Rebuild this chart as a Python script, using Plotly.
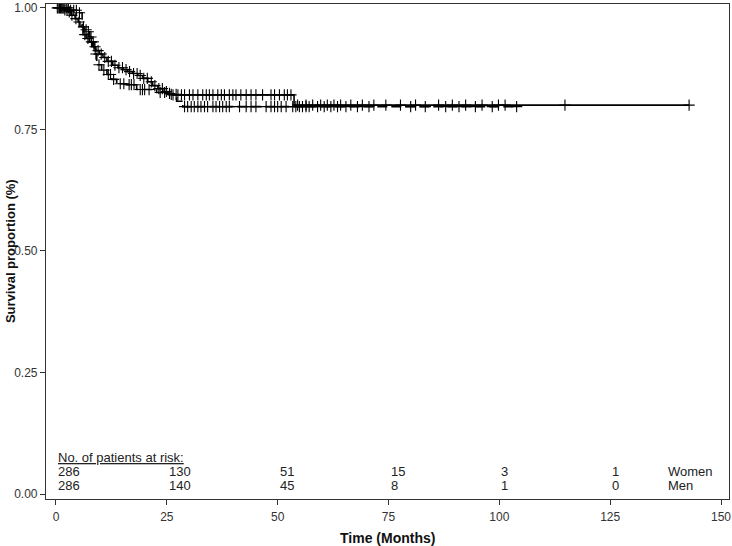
import numpy as np
import plotly.graph_objects as go

# ---- Kaplan-Meier step data ----
women_t = [0, 2.0, 2.7, 3.5, 4.3, 5.0, 5.4, 6.1, 6.8, 7.5, 8.3, 9.0, 9.8, 10.6, 11.5,
           12.8, 14.0, 15.1, 16.2, 17.3, 18.5, 19.6, 20.7, 21.8, 23.0, 24.1, 25.2, 26.3, 53.7]
women_s = [1.0, 0.996, 0.992, 0.985, 0.978, 0.971, 0.962, 0.945, 0.937, 0.930, 0.920, 0.912,
           0.905, 0.898, 0.890, 0.882, 0.877, 0.873, 0.869, 0.865, 0.861, 0.855, 0.848, 0.840,
           0.834, 0.828, 0.824, 0.821, 0.800]
women_end = 142.8

men_t = [0, 3.0, 5.0, 5.9, 6.5, 7.0, 7.6, 8.1, 8.6, 9.2, 10.3, 11.5, 12.6, 13.7, 16.0,
         18.2, 22.7, 25.6, 27.2, 28.6]
men_s = [1.0, 0.995, 0.990, 0.961, 0.955, 0.951, 0.940, 0.930, 0.905, 0.883, 0.872, 0.863,
         0.853, 0.844, 0.842, 0.832, 0.826, 0.822, 0.808, 0.797]
men_end = 103.9

# censoring times
women_cens = [0.3, 0.8, 1.2, 1.6, 2.0, 2.5, 3.0, 3.6, 4.5, 5.2, 6.5, 7.2, 8.0, 8.8, 9.5,
              10.2, 11.0, 11.8, 12.5, 13.3, 14.2, 15.0, 15.8, 16.6, 17.5, 18.3, 19.0, 19.8,
              20.6, 21.5, 22.3, 23.2, 24.0, 24.9, 25.6, 26.4, 27.5, 28.3, 29.0, 30.1, 30.9,
              32.0, 33.1, 33.9, 34.6, 35.4, 36.5, 37.3, 38.0, 39.1, 39.9, 40.6, 41.7, 42.9,
              44.0, 45.1, 46.6, 48.5, 49.3, 50.4, 51.5, 52.2, 53.0, 54.5, 56.4, 57.9, 59.7,
              61.2, 62.7, 64.2, 66.5, 69.1, 71.7, 74.4, 77.7, 81.1, 86.3, 89.4, 92.4, 96.1,
              99.8, 101.3, 114.8, 142.8]
men_cens = [0.5, 1.0, 1.4, 1.8, 2.3, 2.8, 3.3, 4.0, 4.6, 5.3, 6.2, 6.8, 7.3, 7.9, 8.4, 9.0,
            9.7, 10.8, 11.8, 12.3, 13.0, 14.5, 15.3, 16.5, 17.0, 17.6, 19.0, 19.5, 20.0,
            21.0, 23.5, 24.5, 26.0, 27.1, 29.0, 29.7, 30.5, 31.2, 32.0, 32.7, 33.5, 34.2,
            35.4, 36.1, 36.9, 37.6, 38.4, 39.1, 41.4, 42.9, 44.0, 45.1, 47.4, 48.5, 49.3,
            50.0, 50.8, 51.9, 53.4, 54.1, 54.9, 55.6, 56.4, 57.1, 59.0, 60.5, 62.0, 63.5,
            65.4, 68.0, 70.6, 80.0, 83.3, 87.9, 90.9, 94.6, 98.4, 103.9]

# risk table
risk_times = [0, 25, 50, 75, 100, 125]
risk_women = [286, 130, 51, 15, 3, 1]
risk_men = [286, 140, 45, 8, 1, 0]

x_ticks = [0, 25, 50, 75, 100, 125, 150]
y_ticks = [0, 0.25, 0.5, 0.75, 1.0]
y_tick_labels = ["0.00", "0.25", "0.50", "0.75", "1.00"]


def surv_at(times, ts, ss):
    idx = np.searchsorted(np.array(ts), np.array(times), side="right") - 1
    return [ss[i] for i in idx]


fig = go.Figure()

for ts, ss, end, cens, dash in [
    (women_t, women_s, women_end, women_cens, "solid"),
    (men_t, men_s, men_end, men_cens, "10px,4px"),
]:
    xs = list(ts) + [end]
    ys = list(ss) + [ss[-1]]
    fig.add_trace(go.Scatter(x=xs, y=ys, mode="lines", line_shape="hv",
                             line=dict(color="black", width=1.6, dash=dash),
                             showlegend=False, hoverinfo="skip"))
    fig.add_trace(go.Scatter(x=cens, y=surv_at(cens, ts, ss), mode="markers",
                             marker=dict(symbol="cross-thin-open", size=8, color="black",
                                         line=dict(color="black", width=1.1)),
                             showlegend=False, hoverinfo="skip"))

font_tab = dict(family="Liberation Sans, Arial", size=13, color="#222")
ann = []
ann.append(dict(x=0, y=0.0745, xref="x", yref="y", text="<u>No. of patients at risk:</u>",
                showarrow=False, xanchor="left", yanchor="middle", font=font_tab))
for t, w, m in zip(risk_times, risk_women, risk_men):
    ann.append(dict(x=t, y=0.0471, xref="x", yref="y", text=str(w), showarrow=False,
                    xanchor="left", yanchor="middle", font=font_tab))
    ann.append(dict(x=t, y=0.0184, xref="x", yref="y", text=str(m), showarrow=False,
                    xanchor="left", yanchor="middle", font=font_tab))
ann.append(dict(x=137.6, y=0.0471, xref="x", yref="y", text="Women", showarrow=False,
                xanchor="left", yanchor="middle", font=font_tab))
ann.append(dict(x=137.6, y=0.0184, xref="x", yref="y", text="Men", showarrow=False,
                xanchor="left", yanchor="middle", font=font_tab))
ann.append(dict(x=0.5007, y=-0.0785, xref="paper", yref="paper", text="<b>Time (Months)</b>",
                showarrow=False, xanchor="center", yanchor="middle",
                font=dict(family="Liberation Sans, Arial", size=14, color="#111")))
ann.append(dict(x=-0.0526, y=0.501, xref="paper", yref="paper",
                text="<b>Survival proportion (%)</b>", textangle=-90,
                showarrow=False, xanchor="center", yanchor="middle",
                font=dict(family="Liberation Sans, Arial", size=13, color="#111")))

axis_common = dict(showline=True, linecolor="#333", linewidth=1.2, mirror=True,
                   ticks="outside", ticklen=5, tickcolor="#333", showgrid=False,
                   zeroline=False, ticklabeloverflow="allow",
                   tickfont=dict(family="Liberation Sans, Arial", size=12, color="#333"))

fig.update_layout(
    width=732, height=546,
    margin=dict(l=46, r=1, t=2, b=47),
    paper_bgcolor="white", plot_bgcolor="white",
    xaxis=dict(range=[-2.25, 151.8], tickvals=x_ticks, ticklabelstandoff=1, **axis_common),
    yaxis=dict(range=[-0.0102, 1.008], tickvals=y_ticks, ticktext=y_tick_labels,
               **axis_common),
    annotations=ann,
)

fig.write_html("out.html", config={"displayModeBar": False},
               post_script="document.body.style.margin='0';")
